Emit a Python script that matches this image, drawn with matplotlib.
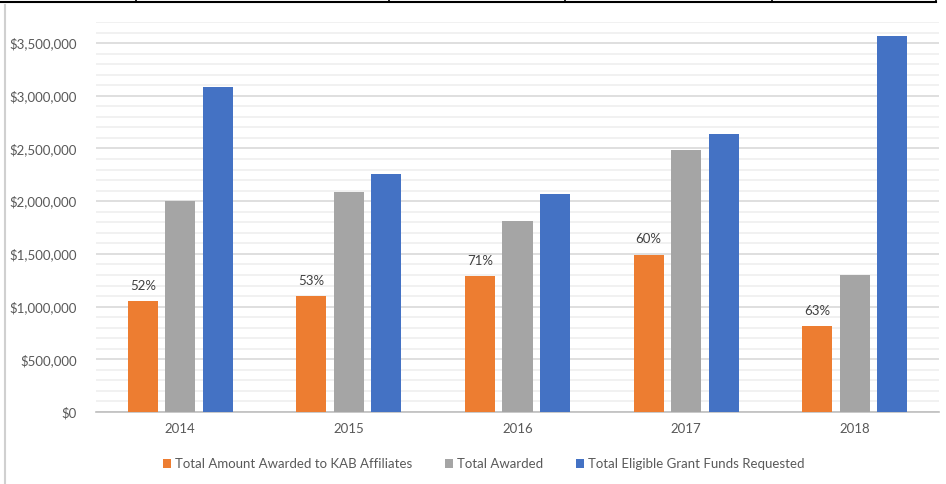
import matplotlib.pyplot as plt
import numpy as np
from matplotlib.lines import Line2D
from matplotlib.ticker import MultipleLocator, FuncFormatter

plt.rcParams['font.family'] = ['Lato', 'DejaVu Sans']

# data
years = ['2014', '2015', '2016', '2017', '2018']
kab_awarded = [1050000, 1100000, 1290000, 1490000, 815000]
total_awarded = [2000000, 2090000, 1810000, 2490000, 1300000]
requested = [3080000, 2260000, 2070000, 2640000, 3570000]
pct_labels = ['52%', '53%', '71%', '60%', '63%']

series_names = ['Total Amount Awarded to KAB Affiliates', 'Total Awarded',
                'Total Eligible Grant Funds Requested']
colors = ['#ED7D31', '#A5A5A5', '#4472C4']

fig = plt.figure(figsize=(9.46, 4.84), dpi=100)
ax = fig.add_axes([96/946, 1-412/484, (939-96)/946, 390/484])

x = np.arange(len(years))
w = 0.178
off = 0.222
ax.bar(x - off, kab_awarded, w, color=colors[0], label=series_names[0], zorder=3)
ax.bar(x, total_awarded, w, color=colors[1], label=series_names[1], zorder=3)
ax.bar(x + off, requested, w, color=colors[2], label=series_names[2], zorder=3)

# percentage labels over the orange bars
for xi, v, t in zip(x, kab_awarded, pct_labels):
    ax.text(xi - off, v + 90000, t, ha='center', va='bottom', fontsize=9.5, color='#404040')

ax.set_xlim(-0.5, len(years) - 0.5)
ax.set_ylim(0, 3700000)
ax.yaxis.set_major_locator(MultipleLocator(500000))
ax.yaxis.set_minor_locator(MultipleLocator(100000))
ax.yaxis.set_major_formatter(FuncFormatter(lambda v, p: '${:,.0f}'.format(v)))
ax.grid(axis='y', which='major', color='#D9D9D9', linewidth=1.2, zorder=0)
ax.grid(axis='y', which='minor', color='#EFEFEF', linewidth=1.2, zorder=0)
ax.set_xticks(x)
ax.set_xticklabels(years)
ax.tick_params(axis='both', which='both', length=0, labelsize=9.5, colors='#595959')
ax.tick_params(axis='y', pad=14)
ax.tick_params(axis='x', pad=8)
for s in ['top', 'right', 'left']:
    ax.spines[s].set_visible(False)
ax.spines['bottom'].set_color('#BFBFBF')
ax.spines['bottom'].set_linewidth(1.2)

leg = fig.legend(loc='center', bbox_to_anchor=(484/946, 1-464/484), ncol=3, frameon=False,
                 fontsize=9.5, handlelength=0.6, handleheight=0.6, handletextpad=0.3,
                 columnspacing=2.5)
for t in leg.get_texts():
    t.set_color('#595959')

# pieces of the table above and the frame on the left
fig.add_artist(Line2D([0, 936/946], [1-2/484, 1-2/484], color='black', linewidth=1.5))
for xv in [136, 389, 565, 772, 936]:
    fig.add_artist(Line2D([xv/946, xv/946], [1-2/484, 1.0], color='black', linewidth=1.2))
fig.add_artist(Line2D([5/946, 5/946], [0, 1-5/484], color='#D0D0D0', linewidth=1.5))

fig.savefig('out.png', dpi=100)
